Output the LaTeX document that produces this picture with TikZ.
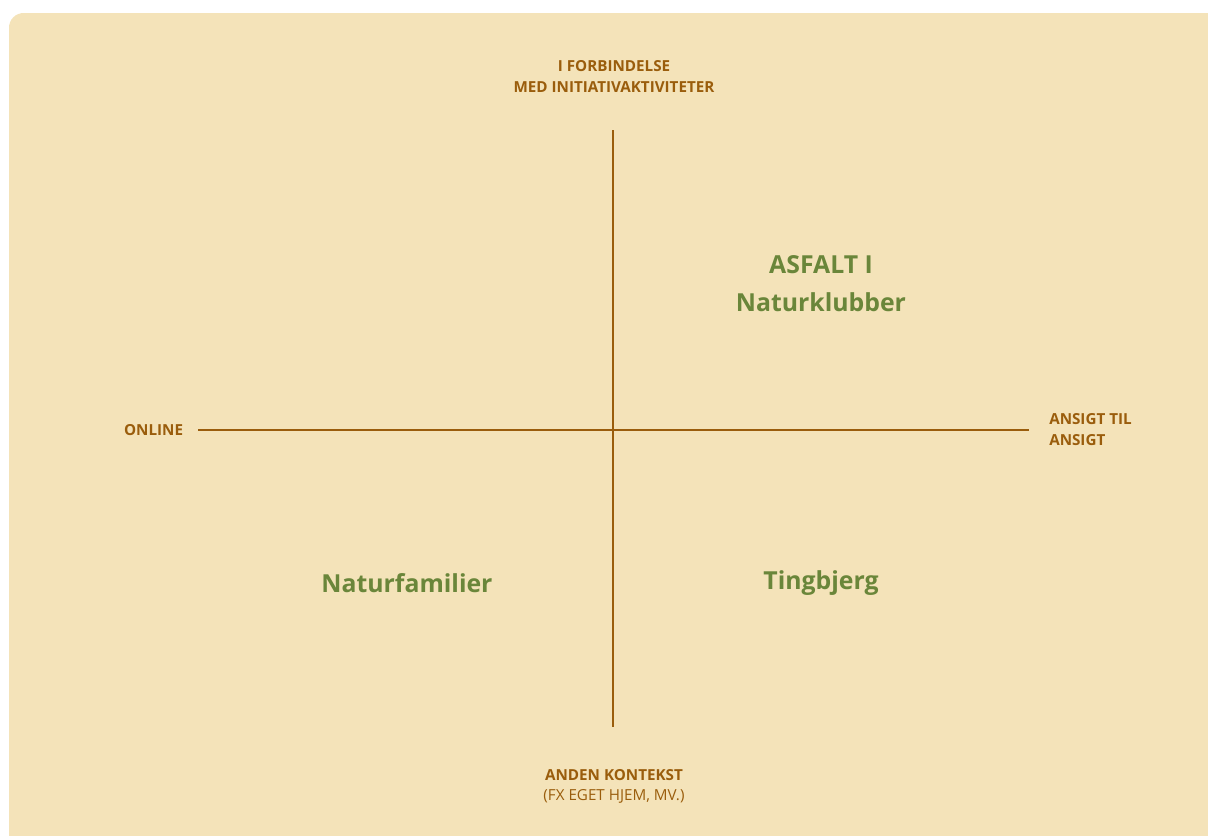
\documentclass[tikz,border=0pt]{standalone}
\usepackage{fontspec}
\setmainfont{Open Sans}
\usetikzlibrary{positioning}

\definecolor{paper}{HTML}{F4E3B9}
\definecolor{axisbrown}{HTML}{9A5D0C}
\definecolor{leafgreen}{HTML}{6A863A}

\begin{document}
\begin{tikzpicture}[
    x=0.75pt, y=-0.75pt,
    axis/.style={draw=axisbrown, line width=1.5pt},
    pole/.style={text=axisbrown, font=\fontsize{11.4}{15.75}\selectfont\bfseries, inner sep=0pt},
    polenote/.style={text=axisbrown, font=\fontsize{11.4}{15.75}\selectfont, inner sep=0pt},
    case/.style={text=leafgreen, font=\fontsize{18.6}{28.5}\selectfont\bfseries, align=center, inner sep=0pt}
]

    \useasboundingbox (0,0) rectangle (1208,836);
    \clip (0,0) rectangle (1208,836);
    \fill[paper, rounded corners=11pt] (9,13) rectangle (1222,850);

    % Axes
    \coordinate (top) at (613,130);
    \coordinate (bottom) at (613,727);
    \coordinate (left) at (198,430);
    \coordinate (right) at (1029,430);
    \draw[axis] (top) -- (bottom);
    \draw[axis] (left) -- (right);

    % Poles
    \node (initiative) [pole, align=center] at (614,76) {I FORBINDELSE\\MED INITIATIVAKTIVITETER};
    \node (online) [pole, left=11pt of left] {ONLINE};
    \node (facetoface) [pole, align=left, right=15pt of right] {ANSIGT TIL\\ANSIGT};
    \node (othercontext) [pole] at (614,775) {ANDEN KONTEKST};
    \node (example) [polenote] at (614,796) {(FX EGET HJEM, MV.)};

    % Cases
    \node (asfalt) [case] at (821,284) {ASFALT I\\Naturklubber};
    \node (naturfamilier) [case] at (407,583) {Naturfamilier};
    \node (tingbjerg) [case] at (821,583) {Tingbjerg};

\end{tikzpicture}
\end{document}
